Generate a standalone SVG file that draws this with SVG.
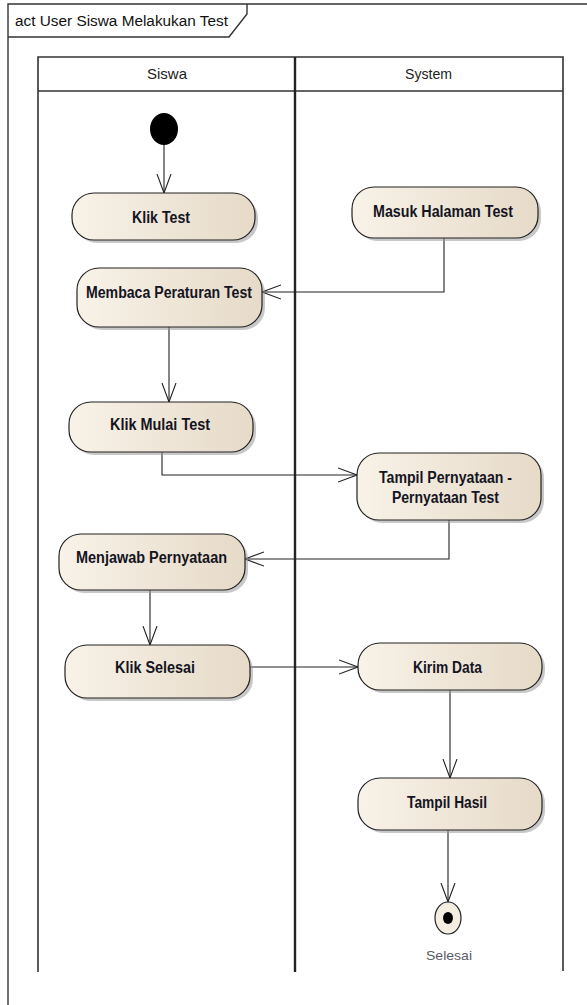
<svg xmlns="http://www.w3.org/2000/svg" width="587" height="1005" viewBox="0 0 587 1005">
  <defs>
    <linearGradient id="actFill" x1="0" y1="0" x2="1" y2="0">
      <stop offset="0" stop-color="#f8f2e8"/>
      <stop offset="1" stop-color="#e6dac8"/>
    </linearGradient>
    <marker id="open" viewBox="0 0 20 16" refX="19" refY="8" markerWidth="20" markerHeight="16" markerUnits="userSpaceOnUse" orient="auto">
      <path d="M0,1 L19,8 L0,15" fill="none" stroke="#222" stroke-width="1.1"/>
    </marker>
  </defs>
  <style>
    .frame { fill: none; stroke: #333; stroke-width: 1.4; }
    .lane { fill: none; stroke: #333; stroke-width: 1.6; }
    .act { fill: url(#actFill); stroke: #222; stroke-width: 1.2; }
    .shadow { fill: #9a9a9a; opacity: 0.55; }
    .edge { fill: none; stroke: #222; stroke-width: 1.1; marker-end: url(#open); }
    .label { font-family: "Liberation Sans", Arial, sans-serif; font-size: 16px; font-weight: bold; fill: #141422; text-anchor: middle; }
    .hdr { font-family: "Liberation Sans", Arial, sans-serif; font-size: 14.5px; fill: #222; text-anchor: middle; }
    .title { font-family: "Liberation Sans", Arial, sans-serif; font-size: 15.5px; fill: #111; }
    .note { font-family: "Liberation Sans", Arial, sans-serif; font-size: 13.5px; fill: #5a5a66; text-anchor: middle; }
  </style>
  <rect width="587" height="1005" fill="#ffffff"/>

  <!-- diagram frame and its name tab -->
  <g id="frame">
    <path class="frame" d="M8,1005 L8,4 L590,4"/>
    <path class="frame" d="M8,37 L229,37 L247,14 L247,4"/>
    <text class="title" x="15" y="26" textLength="213" lengthAdjust="spacingAndGlyphs">act User Siswa Melakukan Test</text>
  </g>

  <!-- swimlanes -->
  <g id="lanes">
    <path class="lane" d="M38,972 L38,57 L563,57 L563,971"/>
    <line class="lane" x1="38" y1="91" x2="563" y2="91"/>
    <line x1="295" y1="57" x2="295" y2="972" stroke="#222" stroke-width="2.4"/>
    <text class="hdr" x="167" y="79" textLength="40" lengthAdjust="spacingAndGlyphs">Siswa</text>
    <text class="hdr" x="428.5" y="79" textLength="47" lengthAdjust="spacingAndGlyphs">System</text>
  </g>

  <!-- control flows -->
  <g id="connectors">
    <line class="edge" x1="164" y1="145" x2="164" y2="193"/>
    <path class="edge" d="M444,238 L444,292 L262,292"/>
    <line class="edge" x1="169" y1="327" x2="169" y2="402"/>
    <path class="edge" d="M162,452 L162,475 L357,475"/>
    <path class="edge" d="M449,520 L449,559 L245,559"/>
    <line class="edge" x1="150" y1="590" x2="150" y2="645"/>
    <line class="edge" x1="250" y1="667" x2="358" y2="667"/>
    <line class="edge" x1="450" y1="690" x2="450" y2="778"/>
    <line class="edge" x1="448" y1="830" x2="448" y2="902"/>
  </g>

  <g id="start">
    <ellipse cx="164" cy="129" rx="14" ry="16" fill="#000"/>
  </g>

  <g id="klik-test">
    <rect class="shadow" x="75" y="196" width="183" height="47" rx="22"/>
    <rect class="act" x="72" y="193" width="183" height="47" rx="22"/>
    <text class="label" x="161" y="223" textLength="58" lengthAdjust="spacingAndGlyphs">Klik Test</text>
  </g>

  <g id="masuk-halaman-test">
    <rect class="shadow" x="355" y="190" width="186" height="51" rx="22"/>
    <rect class="act" x="352" y="187" width="186" height="51" rx="22"/>
    <text class="label" x="443" y="217" textLength="140" lengthAdjust="spacingAndGlyphs">Masuk Halaman Test</text>
  </g>

  <g id="membaca-peraturan-test">
    <rect class="shadow" x="80" y="271" width="185" height="59" rx="22"/>
    <rect class="act" x="77" y="268" width="185" height="59" rx="22"/>
    <text class="label" x="169" y="298" textLength="166" lengthAdjust="spacingAndGlyphs">Membaca Peraturan Test</text>
  </g>

  <g id="klik-mulai-test">
    <rect class="shadow" x="72" y="405" width="184" height="50" rx="22"/>
    <rect class="act" x="69" y="402" width="184" height="50" rx="22"/>
    <text class="label" x="160" y="430" textLength="100" lengthAdjust="spacingAndGlyphs">Klik Mulai Test</text>
  </g>

  <g id="tampil-pernyataan">
    <rect class="shadow" x="360" y="456" width="184" height="67" rx="22"/>
    <rect class="act" x="357" y="453" width="184" height="67" rx="22"/>
    <text class="label" x="445.5" y="483" textLength="133" lengthAdjust="spacingAndGlyphs">Tampil Pernyataan -</text>
    <text class="label" x="445.5" y="503" textLength="107" lengthAdjust="spacingAndGlyphs">Pernyataan Test</text>
  </g>

  <g id="menjawab-pernyataan">
    <rect class="shadow" x="62" y="537" width="186" height="56" rx="22"/>
    <rect class="act" x="59" y="534" width="186" height="56" rx="22"/>
    <text class="label" x="151.5" y="563" textLength="151" lengthAdjust="spacingAndGlyphs">Menjawab Pernyataan</text>
  </g>

  <g id="klik-selesai">
    <rect class="shadow" x="68" y="648" width="185" height="53" rx="22"/>
    <rect class="act" x="65" y="645" width="185" height="53" rx="22"/>
    <text class="label" x="155" y="673" textLength="80" lengthAdjust="spacingAndGlyphs">Klik Selesai</text>
  </g>

  <g id="kirim-data">
    <rect class="shadow" x="361" y="646" width="184" height="47" rx="22"/>
    <rect class="act" x="358" y="643" width="184" height="47" rx="22"/>
    <text class="label" x="447.5" y="673" textLength="69" lengthAdjust="spacingAndGlyphs">Kirim Data</text>
  </g>

  <g id="tampil-hasil">
    <rect class="shadow" x="361" y="781" width="184" height="52" rx="22"/>
    <rect class="act" x="358" y="778" width="184" height="52" rx="22"/>
    <text class="label" x="447" y="808" textLength="80" lengthAdjust="spacingAndGlyphs">Tampil Hasil</text>
  </g>

  <g id="selesai">
    <ellipse cx="448" cy="918" rx="13" ry="16" fill="#f3ede2" stroke="#222" stroke-width="1.2"/>
    <ellipse cx="448" cy="918" rx="5" ry="6" fill="#000"/>
    <text class="note" x="449" y="960" textLength="46" lengthAdjust="spacingAndGlyphs">Selesai</text>
  </g>
</svg>
